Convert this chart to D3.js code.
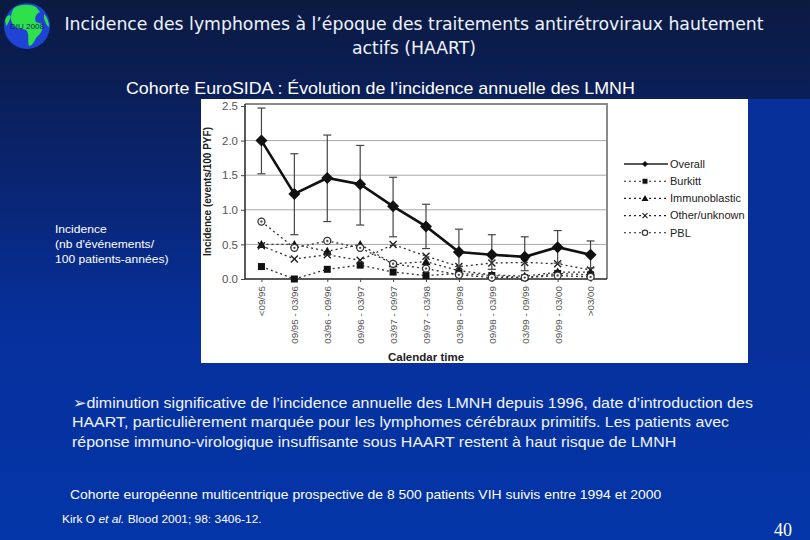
<!DOCTYPE html>
<html><head><meta charset="utf-8">
<script src="https://cdn.jsdelivr.net/npm/d3@7"></script>
<style>html,body{margin:0;padding:0;background:#0a2a8a;}svg{display:block;}</style>
</head><body>
<script>
// ---------- data ----------
const categories = ["<09/95","09/95 - 03/96","03/96 - 09/96","09/96 - 03/97","03/97 - 09/97","09/97 - 03/98","03/98 - 09/98","09/98 - 03/99","03/99 - 09/99","09/99 - 03/00",">03/00"];
const overall     = [2.00, 1.23, 1.46, 1.37, 1.05, 0.76, 0.39, 0.35, 0.32, 0.46, 0.35];
const overallLow  = [1.52, 0.64, 0.83, 0.78, 0.61, 0.44, 0.18, 0.14, 0.12, 0.23, 0.16];
const overallHigh = [2.47, 1.81, 2.08, 1.93, 1.47, 1.08, 0.72, 0.64, 0.61, 0.70, 0.55];
const burkitt     = [0.18, 0.00, 0.14, 0.20, 0.10, 0.05, 0.08, 0.05, 0.02, 0.08, 0.06];
const immuno      = [0.50, 0.50, 0.40, 0.50, 0.22, 0.25, 0.12, 0.06, 0.04, 0.10, 0.10];
const other       = [0.48, 0.29, 0.35, 0.27, 0.50, 0.33, 0.18, 0.23, 0.24, 0.22, 0.13];
const pbl         = [0.83, 0.45, 0.55, 0.45, 0.22, 0.15, 0.06, 0.02, 0.02, 0.05, 0.03];
const yTicks = [0, 0.5, 1.0, 1.5, 2.0, 2.5];
const seriesNames = ["Overall","Burkitt","Immunoblastic","Other/unknown","PBL"];

const W = 810, H = 540;
const svg = d3.select("body").append("svg").attr("width", W).attr("height", H);
const defs = svg.append("defs");
const bg = defs.append("linearGradient").attr("id","bg").attr("x1",0).attr("y1",0).attr("x2",0).attr("y2",1);
bg.append("stop").attr("offset","0").attr("stop-color","#0b1a40");
bg.append("stop").attr("offset","0.3").attr("stop-color","#0a236c");
bg.append("stop").attr("offset","0.6").attr("stop-color","#06309c");
bg.append("stop").attr("offset","1").attr("stop-color","#0335a8");
svg.append("rect").attr("width",W).attr("height",H).attr("fill","url(#bg)");

// ---------- globe logo ----------
const g0 = svg.append("g");
g0.append("circle").attr("cx",27).attr("cy",26).attr("r",23).attr("fill","#1e44d6");
g0.append("path").attr("fill","#2ee04a")
  .attr("d","M14,8 C20,4 30,4 36,7 L40,12 C36,14 34,18 36,22 L42,24 C44,30 40,34 36,38 C34,42 32,46 29,46 C27,40 30,34 26,30 C22,28 18,30 14,26 C10,22 10,14 14,8 Z");
g0.append("path").attr("fill","#2ee04a")
  .attr("d","M5,20 C7,16 9,14 11,16 C10,20 8,24 6,26 Z");
g0.append("path").attr("fill","#2ee04a")
  .attr("d","M44,14 C47,17 49,22 49,27 C47,26 45,22 44,18 Z");
g0.append("text").attr("x",27).attr("y",29).attr("text-anchor","middle")
  .attr("font-family","Liberation Sans, Arial, sans-serif").attr("font-size",8).attr("fill","#0a1a66").text("DIU 2008");

// ---------- titles ----------
const title = svg.append("text").attr("font-family","DejaVu Sans, Verdana, sans-serif").attr("font-size",17.3).attr("fill","#eef3ff").attr("text-anchor","middle");
title.append("tspan").attr("x",414).attr("y",30).text("Incidence des lymphomes à l’époque des traitements antirétroviraux hautement");
title.append("tspan").attr("x",414).attr("y",54).text("actifs (HAART)");

function stretched(x0, sx){ return svg.append("g").attr("transform",`translate(${x0},0) scale(${sx},1)`); }

stretched(126, 1.10).append("text").attr("x",0).attr("y",94).attr("font-family","Liberation Sans, Arial, sans-serif").attr("font-size",16.2).attr("fill","#ffffff")
  .text("Cohorte EuroSIDA : Évolution de l’incidence annuelle des LMNH");

const side = stretched(55, 1.08).append("text").attr("font-family","Liberation Sans, Arial, sans-serif").attr("font-size",11.2).attr("fill","#ffffff");
["Incidence","(nb d'événements/","100 patients-années)"].forEach((t,i)=>side.append("tspan").attr("x",0).attr("y",233+i*15).text(t));

// ---------- chart image ----------
svg.append("rect").attr("x",201).attr("y",99).attr("width",547).attr("height",264).attr("fill","#ffffff");

const x = d3.scalePoint().domain(categories).range([245, 607]).padding(0.5);
const y = d3.scaleLinear().domain([0, 2.5]).range([279, 106]);
const plotL = 245, plotR = 607, plotT = 104, plotB = 279;

const chart = svg.append("g").attr("font-family","Liberation Sans, Arial, sans-serif");
chart.append("g").selectAll("line").data(yTicks.filter(d=>d>0 && d<2.5)).join("line")
  .attr("x1",plotL).attr("x2",plotR).attr("y1",d=>y(d)).attr("y2",d=>y(d))
  .attr("stroke","#a8a8a8").attr("stroke-width",1);
chart.append("path").attr("d",`M${plotL},${plotT}H${plotR}V${plotB}`).attr("fill","none").attr("stroke","#8a8a8a").attr("stroke-width",2);

const yAxis = d3.axisLeft(y).tickValues(yTicks).tickFormat(d3.format(".1f")).tickSize(4).tickSizeOuter(0);
const ya = chart.append("g").attr("transform",`translate(${plotL},0)`).call(yAxis);
ya.select(".domain").attr("stroke","#222").attr("stroke-width",1.5).attr("d",`M0,${plotT}V${plotB}`);
ya.selectAll(".tick line").attr("stroke","#444");
ya.selectAll(".tick text").attr("font-size",11.5).attr("fill","#555").attr("x",-7);

const xAxis = d3.axisBottom(x).tickSize(3).tickSizeOuter(0);
const xa = chart.append("g").attr("transform",`translate(0,${plotB})`).call(xAxis);
xa.select(".domain").attr("stroke","#222").attr("stroke-width",1.5).attr("d",`M${plotL},0H${plotR}`);
xa.selectAll(".tick line").attr("stroke","#444");
xa.selectAll(".tick text").attr("font-size",9.8).attr("fill","#555")
  .attr("transform","rotate(-90)").attr("text-anchor","end").attr("x",-7).attr("y",0).attr("dy","0.35em");

chart.append("text").attr("x",(plotL+plotR)/2).attr("y",361).attr("text-anchor","middle")
  .attr("font-size",11.5).attr("font-weight","bold").attr("fill","#222").text("Calendar time");
chart.append("text").attr("transform",`translate(211,${(plotT+plotB)/2}) rotate(-90)`).attr("text-anchor","middle")
  .attr("font-size",10).attr("font-weight","bold").attr("fill","#222").text("Incidence (events/100 PYF)");

// ---------- minor series ----------
const line = d3.line().x((d,i)=>x(categories[i])).y(d=>y(d));
const minor = [
  {name:"Burkitt", data:burkitt, shape:"square"},
  {name:"Immunoblastic", data:immuno, shape:"triangle"},
  {name:"Other/unknown", data:other, shape:"cross"},
  {name:"PBL", data:pbl, shape:"ring"}
];
function marker(sel, shape, cx, cy){
  if(shape==="square") sel.append("rect").attr("x",cx-3.5).attr("y",cy-3.5).attr("width",7).attr("height",7).attr("fill","#111");
  else if(shape==="triangle") sel.append("path").attr("d",`M${cx},${cy-4.5}L${cx+4.5},${cy+3.5}L${cx-4.5},${cy+3.5}Z`).attr("fill","#111");
  else if(shape==="cross") sel.append("path").attr("d",`M${cx-3.5},${cy-3.5}L${cx+3.5},${cy+3.5}M${cx+3.5},${cy-3.5}L${cx-3.5},${cy+3.5}`).attr("stroke","#222").attr("stroke-width",1.4);
  else if(shape==="ring"){ sel.append("circle").attr("cx",cx).attr("cy",cy).attr("r",3.5).attr("fill","#fff").attr("stroke","#333").attr("stroke-width",1.3);
    sel.append("circle").attr("cx",cx).attr("cy",cy).attr("r",1.2).attr("fill","#555"); }
  else if(shape==="diamond") sel.append("path").attr("d",`M${cx},${cy-6}L${cx+6},${cy}L${cx},${cy+6}L${cx-6},${cy}Z`).attr("fill","#111");
}
minor.forEach(s=>{
  chart.append("path").attr("d",line(s.data)).attr("fill","none").attr("stroke","#333").attr("stroke-width",1.3).attr("stroke-dasharray","2,3");
});
minor.forEach(s=>{
  const g = chart.append("g");
  s.data.forEach((v,i)=>marker(g, s.shape, x(categories[i]), y(v)));
});

// ---------- overall with error bars ----------
const eb = chart.append("g").attr("stroke","#444").attr("stroke-width",1.2);
categories.forEach((c,i)=>{
  const cx = x(c);
  eb.append("line").attr("x1",cx).attr("x2",cx).attr("y1",y(overallLow[i])).attr("y2",y(overallHigh[i]));
  eb.append("line").attr("x1",cx-4).attr("x2",cx+4).attr("y1",y(overallLow[i])).attr("y2",y(overallLow[i]));
  eb.append("line").attr("x1",cx-4).attr("x2",cx+4).attr("y1",y(overallHigh[i])).attr("y2",y(overallHigh[i]));
});
chart.append("path").attr("d",line(overall)).attr("fill","none").attr("stroke","#111").attr("stroke-width",2.6);
const og = chart.append("g");
overall.forEach((v,i)=>marker(og,"diamond",x(categories[i]),y(v)));

// ---------- legend ----------
const lg = chart.append("g");
const shapes = ["diamond","square","triangle","cross","ring"];
seriesNames.forEach((n,i)=>{
  const ly = 164 + i*17.2;
  const ln = lg.append("line").attr("x1",624).attr("x2",668).attr("y1",ly).attr("y2",ly).attr("stroke","#222");
  if(i===0) ln.attr("stroke-width",1.6); else ln.attr("stroke-width",1.1).attr("stroke-dasharray","2,3");
  const mg = lg.append("g");
  if(i===0) mg.append("path").attr("d",`M645,${ly-3}L648,${ly}L645,${ly+3}L642,${ly}Z`).attr("fill","#111");
  else if(shapes[i]==="square") mg.append("rect").attr("x",642).attr("y",ly-3).attr("width",6).attr("height",6).attr("fill","#111").attr("stroke","#fff").attr("stroke-width",1);
  else if(shapes[i]==="triangle") mg.append("path").attr("d",`M645,${ly-3.5}L648.5,${ly+2.5}L641.5,${ly+2.5}Z`).attr("fill","#111");
  else if(shapes[i]==="cross") mg.append("path").attr("d",`M642.5,${ly-2.5}L647.5,${ly+2.5}M647.5,${ly-2.5}L642.5,${ly+2.5}`).attr("stroke","#222").attr("stroke-width",1.2);
  else mg.append("circle").attr("cx",645).attr("cy",ly).attr("r",2.7).attr("fill","#fff").attr("stroke","#333").attr("stroke-width",1.2);
  lg.append("text").attr("x",670).attr("y",ly).attr("dy","0.35em").attr("font-size",11).attr("fill","#222").text(n);
});
// the picture is cut at its right edge
svg.append("rect").attr("x",748).attr("y",99).attr("width",62).attr("height",264).attr("fill","#07309a");

// ---------- bottom text ----------
const body = stretched(73, 1.065).append("text").attr("font-family","Liberation Sans, Arial, sans-serif").attr("font-size",15).attr("fill","#f2f4ff");
const lines = ["➢diminution significative de l’incidence annuelle des LMNH depuis 1996, date d’introduction des",
  "HAART, particulièrement marquée pour les lymphomes cérébraux primitifs. Les patients avec",
  "réponse immuno-virologique insuffisante sous HAART restent à haut risque de LMNH"];
lines.forEach((t,i)=>body.append("tspan").attr("x",i===0?0:-1).attr("y",408+i*19.5).text(t));

stretched(70, 1.09).append("text").attr("x",0).attr("y",499).attr("font-family","Liberation Sans, Arial, sans-serif").attr("font-size",12.8).attr("fill","#ffffff")
  .text("Cohorte européenne multicentrique prospective de 8 500 patients VIH suivis entre 1994 et 2000");
const ref = stretched(62, 1.085).append("text").attr("x",0).attr("y",523).attr("font-family","Liberation Sans, Arial, sans-serif").attr("font-size",11).attr("fill","#ffffff");
ref.append("tspan").text("Kirk O ");
ref.append("tspan").attr("font-style","italic").text("et al.");
ref.append("tspan").text(" Blood 2001; 98: 3406-12.");

svg.append("text").attr("x",783).attr("y",536).attr("text-anchor","middle").attr("font-family","Liberation Serif, Times New Roman, serif").attr("font-size",18).attr("fill","#ffffff").text("40");
</script>
</body></html>
